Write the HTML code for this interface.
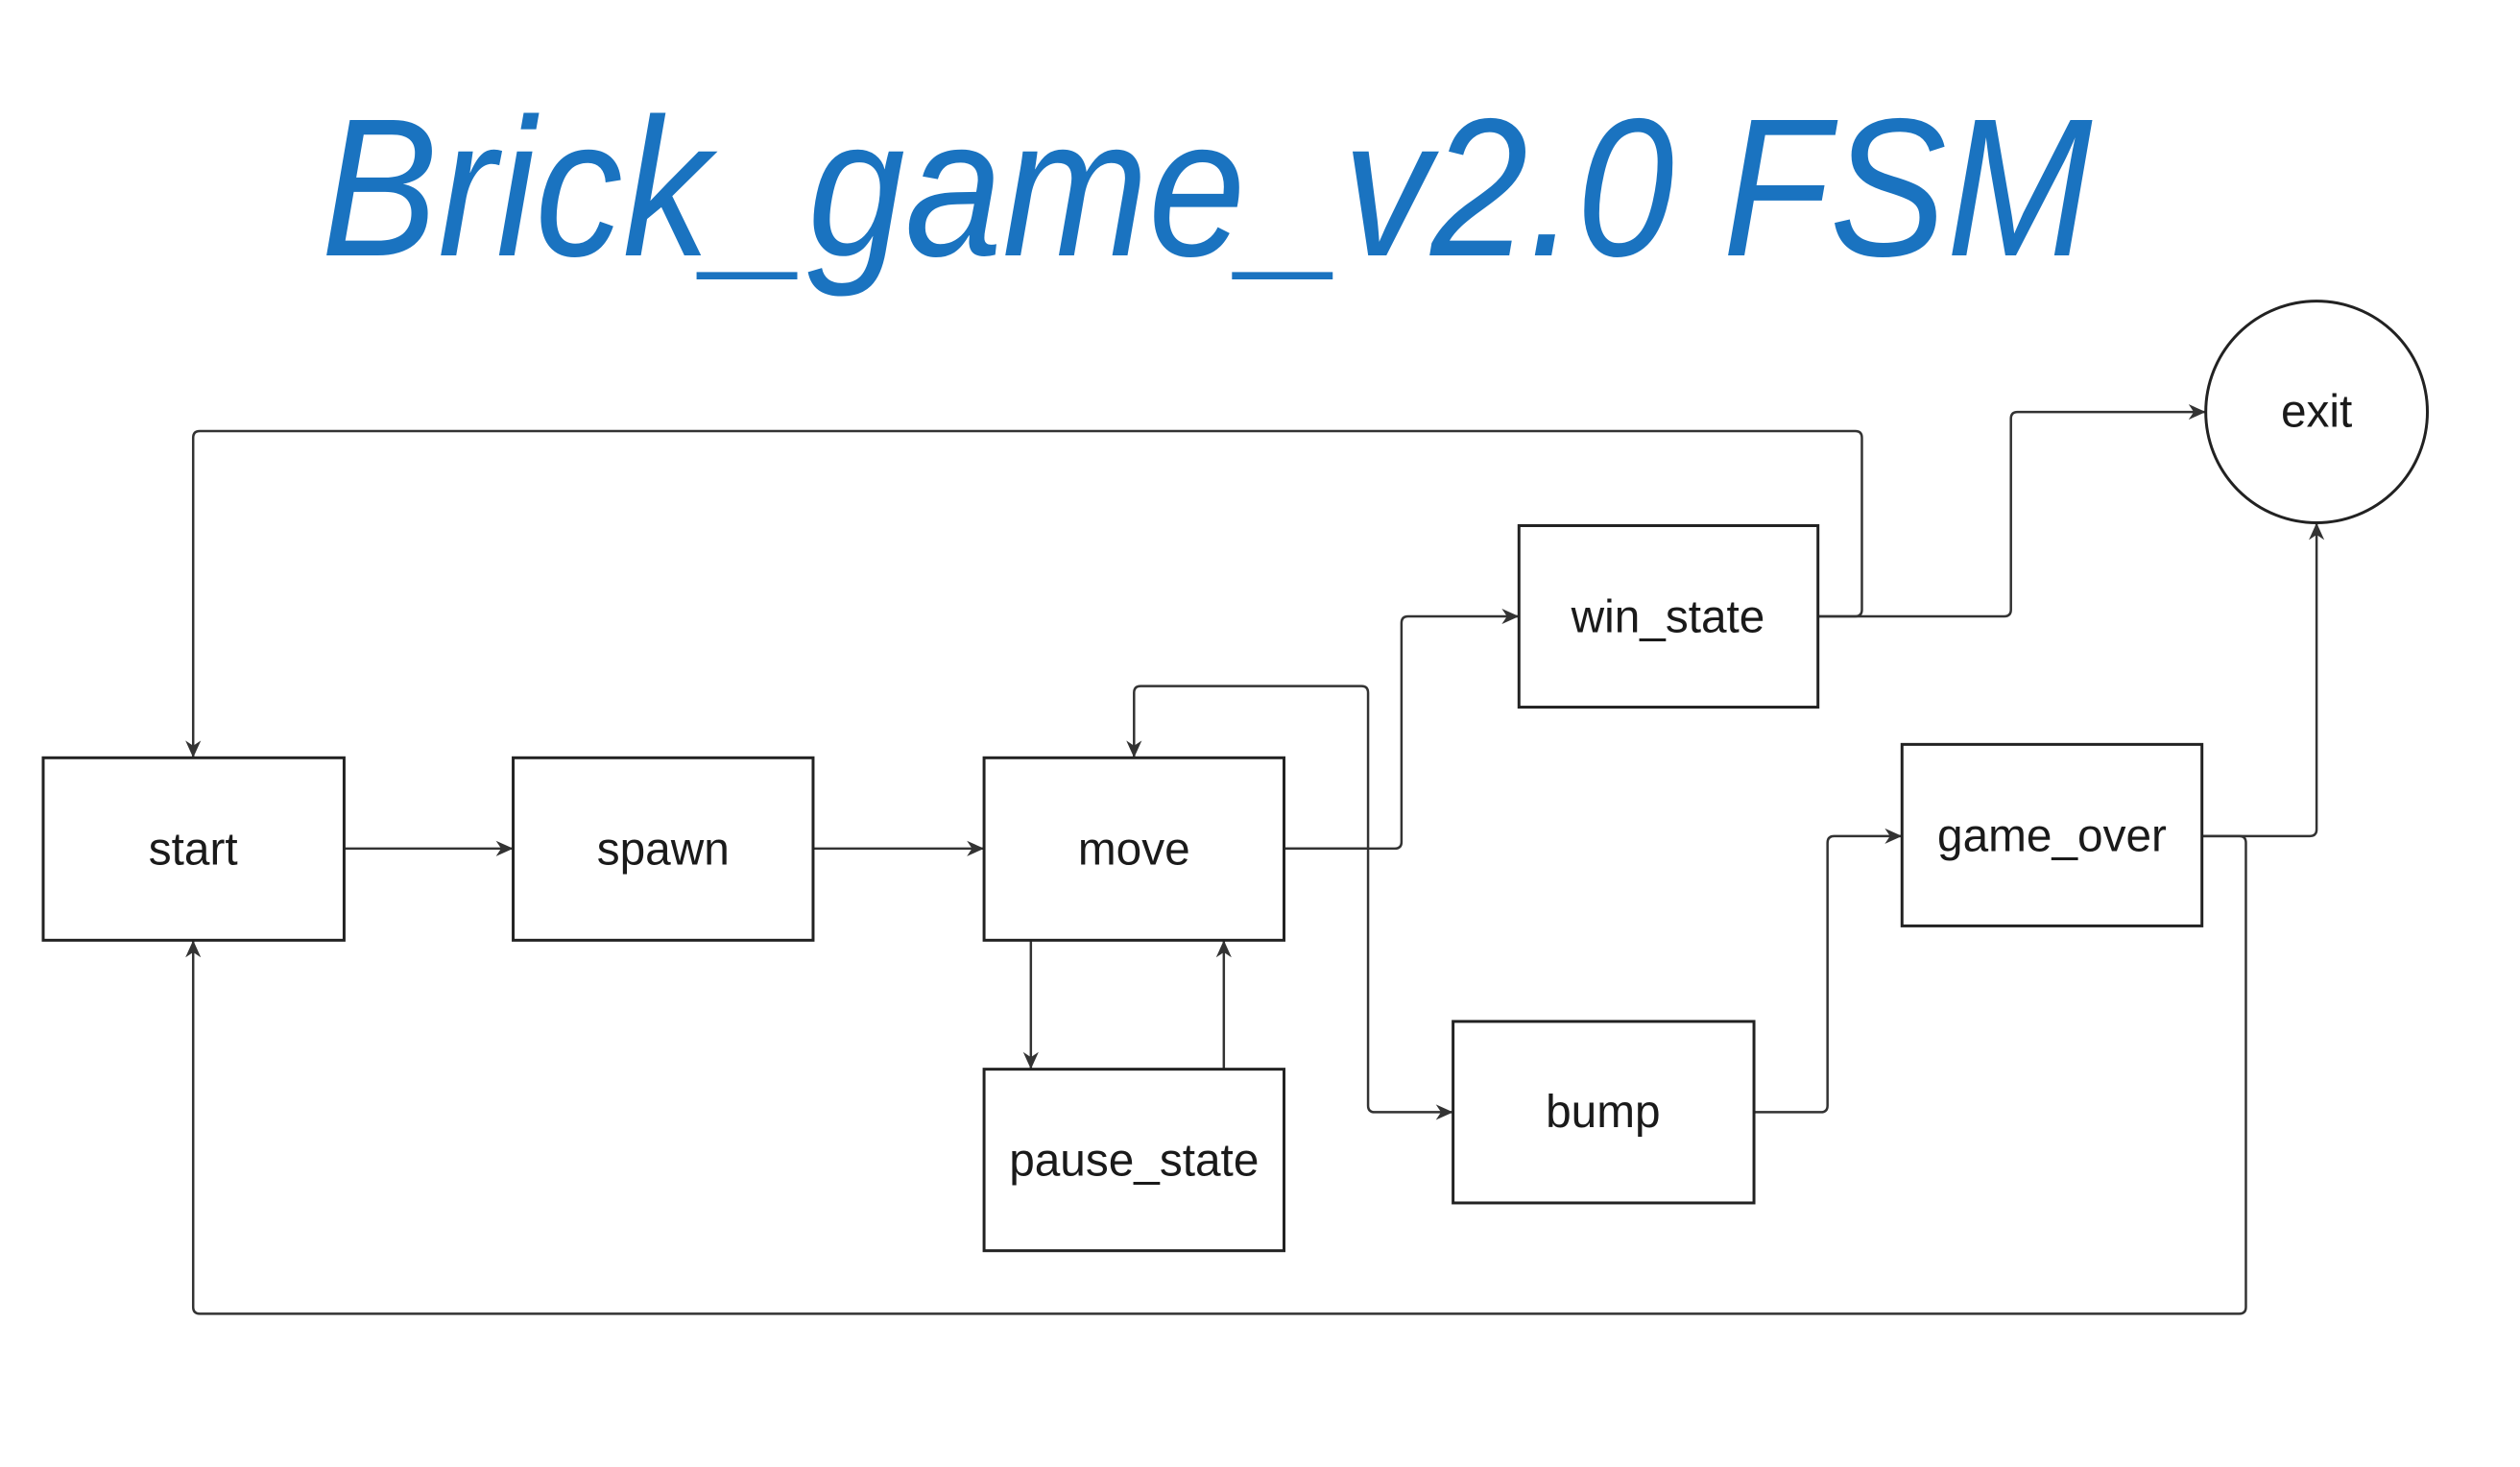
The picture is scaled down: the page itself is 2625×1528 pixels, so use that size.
<!DOCTYPE html>
<html><head><meta charset="utf-8"><style>html,body{margin:0;padding:0;background:#fff}</style></head>
<body>
<svg width="2625" height="1523" viewBox="0 0 2625 1523" xmlns="http://www.w3.org/2000/svg">
<defs>
<marker id="a" viewBox="0 0 10 10" refX="10" refY="5" markerWidth="18" markerHeight="18" markerUnits="userSpaceOnUse" orient="auto-start-reverse">
<path d="M0,0.5 L10,5 L0,9.5 L3,5 Z" fill="#333"/>
</marker>
<style>
.l{fill:none;stroke:#333;stroke-width:2.5;marker-end:url(#a)}
.b{fill:#fff;stroke:#222;stroke-width:3}
.t{font-family:"Liberation Sans",sans-serif;font-size:48px;fill:#1a1a1a;text-anchor:middle;dominant-baseline:central}
</style>
</defs>
<text x="1257" y="266" font-family="Liberation Sans, sans-serif" font-style="italic" font-size="205" fill="#1a73c0" text-anchor="middle" textLength="1845" lengthAdjust="spacingAndGlyphs">Brick_game_v2.0 FSM</text>

<g transform="translate(45,448) scale(0.995) translate(-45,-450)">
<path class="l" d="M360,888 H537"/>
<path class="l" d="M851,888 H1030"/>
<path class="l" d="M1344,888 H1432 V725 Q1432,718 1425,718 H1194 Q1187,718 1187,725 V793"/>
<path class="l" d="M1344,888 H1460 Q1467,888 1467,881 V652 Q1467,645 1474,645 H1590"/>
<path class="l" d="M1432,888 V1157 Q1432,1164 1439,1164 H1521"/>
<path class="l" d="M1079,984 V1119"/>
<path class="l" d="M1281,1119 V984"/>
<path class="l" d="M1903,645 H1942 Q1949,645 1949,638 V458 Q1949,451 1942,451 H209 Q202,451 202,458 V793"/>
<path class="l" d="M1903,645 H2098 Q2105,645 2105,638 V438 Q2105,431 2112,431 H2309"/>
<path class="l" d="M1836,1164 H1906 Q1913,1164 1913,1157 V882 Q1913,875 1920,875 H1991"/>
<path class="l" d="M2305,875 H2418 Q2425,875 2425,868 V547"/>
<path class="l" d="M2305,875 H2344 Q2351,875 2351,882 V1368 Q2351,1375 2344,1375 H209 Q202,1375 202,1368 V984"/>

<rect class="b" x="45" y="793" width="315" height="191"/><text class="t" x="202" y="889">start</text>
<rect class="b" x="537" y="793" width="314" height="191"/><text class="t" x="694" y="889">spawn</text>
<rect class="b" x="1030" y="793" width="314" height="191"/><text class="t" x="1187" y="889">move</text>
<rect class="b" x="1030" y="1119" width="314" height="190"/><text class="t" x="1187" y="1215">pause_state</text>
<rect class="b" x="1590" y="550" width="313" height="190"/><text class="t" x="1746" y="646">win_state</text>
<rect class="b" x="1991" y="779" width="314" height="190"/><text class="t" x="2148" y="875">game_over</text>
<rect class="b" x="1521" y="1069" width="315" height="190"/><text class="t" x="1678" y="1164">bump</text>
<circle class="b" cx="2425" cy="431" r="116"/><text class="t" x="2425" y="431">exit</text>
</g>
</svg>
</body></html>
